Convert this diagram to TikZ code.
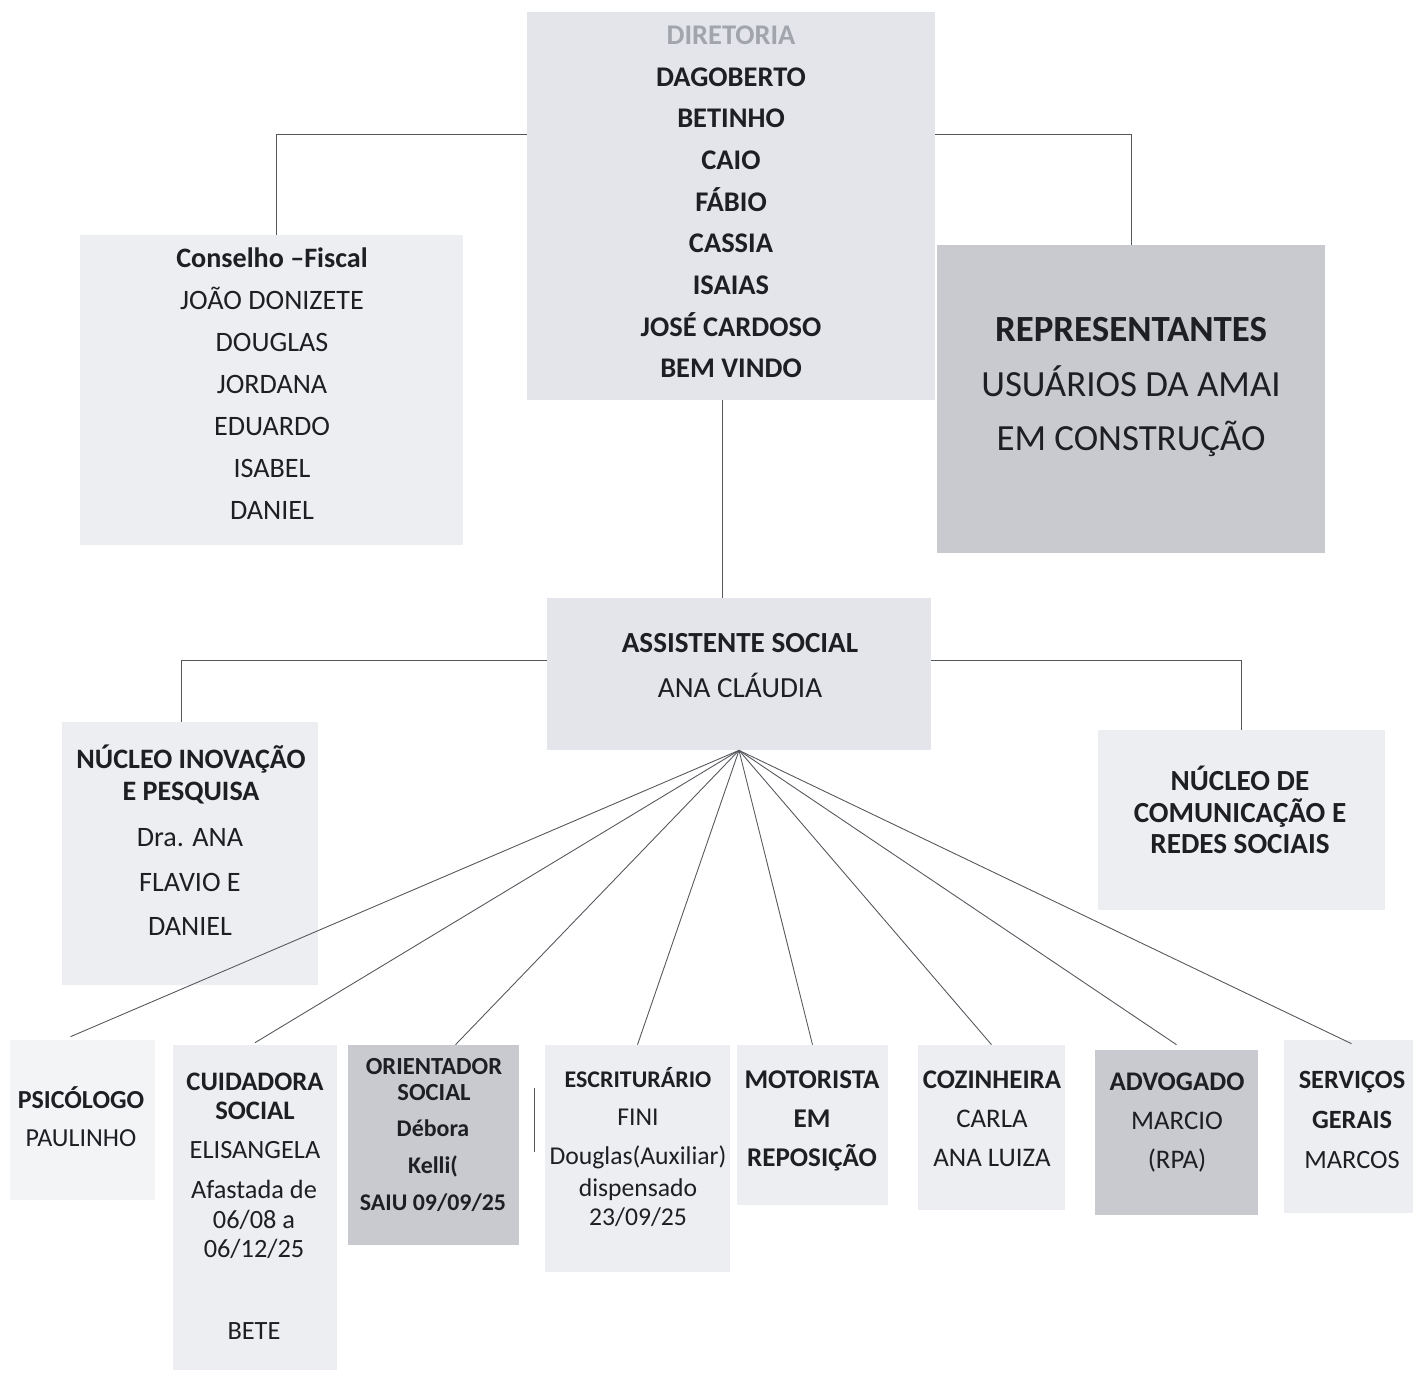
\documentclass[tikz,border=0pt]{standalone}
\usepackage{fontspec}
\setmainfont{Carlito}
\definecolor{ink}{HTML}{1E1F23}
\definecolor{dimink}{HTML}{A2A5AC}
\definecolor{boxmid}{HTML}{E3E5EA}
\definecolor{boxpale}{HTML}{EDEEF2}
\definecolor{boxfaint}{HTML}{F3F4F6}
\definecolor{boxdark}{HTML}{C8CACF}
\definecolor{wire}{HTML}{55575C}
\begin{document}
\begin{tikzpicture}[x=0.02cm,y=-0.02cm,
	box/.style={rectangle,inner sep=0pt,fill=boxpale},
	txt/.style={align=center,text=ink,inner sep=0pt},
	wirel/.style={draw=wire,line width=0.5pt}]
	\useasboundingbox[fill=white] (0,0) rectangle (1413,1374);
	% boxes
	\node[box,fill=boxmid,minimum width=8.16cm,minimum height=7.76cm] (dir) at (731,206) {};
	\node[box,minimum width=7.66cm,minimum height=6.2cm] (cons) at (271.5,390) {};
	\node[box,fill=boxdark,minimum width=7.76cm,minimum height=6.16cm] (repr) at (1131,399) {};
	\node[box,fill=boxmid,minimum width=7.68cm,minimum height=3.04cm] (assist) at (739,674) {};
	\node[box,minimum width=5.12cm,minimum height=5.26cm] (inov) at (190,853.5) {};
	\node[box,minimum width=5.74cm,minimum height=3.6cm] (comu) at (1241.5,820) {};
	\node[box,fill=boxfaint,minimum width=2.9cm,minimum height=3.2cm] (psic) at (82.5,1120) {};
	\node[box,minimum width=3.28cm,minimum height=6.5cm] (cuid) at (255,1207.5) {};
	\node[box,fill=boxdark,minimum width=3.42cm,minimum height=4.0cm] (orie) at (433.5,1145) {};
	\node[box,minimum width=3.7cm,minimum height=4.54cm] (escr) at (637.5,1158.5) {};
	\node[box,minimum width=3.02cm,minimum height=3.2cm] (moto) at (812.5,1125) {};
	\node[box,minimum width=2.94cm,minimum height=3.3cm] (cozi) at (991.5,1127.5) {};
	\node[box,fill=boxdark,minimum width=3.26cm,minimum height=3.3cm] (advo) at (1176.5,1132.5) {};
	\node[box,minimum width=2.58cm,minimum height=3.46cm] (serv) at (1348.5,1126.5) {};
	% texts
	\node[txt,font=\fontsize{16.2}{23.7}\selectfont\bfseries] (dirtxt) at (731,202)
		{\textcolor{dimink}{DIRETORIA}\\DAGOBERTO\\BETINHO\\CAIO\\FÁBIO\\CASSIA\\ISAIAS\\JOSÉ CARDOSO\\BEM VINDO};
	\node[txt,font=\fontsize{16}{23.9}\selectfont] (constxt) at (272,383.5)
		{\textbf{Conselho –Fiscal}\\JOÃO DONIZETE\\DOUGLAS\\JORDANA\\EDUARDO\\ISABEL\\DANIEL};
	\node[txt,font=\fontsize{21}{31.2}\selectfont] (reprtxt) at (1131,387)
		{\textbf{REPRESENTANTES}\\USUÁRIOS DA AMAI\\EM CONSTRUÇÃO};
	\node[txt,font=\fontsize{16.6}{25.5}\selectfont] (assisttxt) at (740,665.5)
		{\textbf{ASSISTENTE SOCIAL}\\ANA CLÁUDIA};
	\node[txt,font=\fontsize{16}{18.7}\selectfont\bfseries] (inovhead) at (191,774.5)
		{NÚCLEO INOVAÇÃO\\E PESQUISA};
	\node[txt,font=\fontsize{16}{25.5}\selectfont] (inovnames) at (190,882)
		{Dra. ANA\\FLAVIO E\\DANIEL};
	\node[txt,font=\fontsize{16.6}{18.1}\selectfont\bfseries] (comutxt) at (1240,810)
		{NÚCLEO DE\\COMUNICAÇÃO E\\REDES SOCIAIS};
	\node[txt,font=\fontsize{14.8}{21.5}\selectfont] (psictxt) at (81,1117)
		{\textbf{PSICÓLOGO}\\PAULINHO};
	\node[txt,font=\fontsize{15.2}{16.4}\selectfont\bfseries] (cuidhead) at (255,1096.5)
		{CUIDADORA\\SOCIAL};
	\node[txt,font=\fontsize{15}{16.7}\selectfont] (cuidname) at (255,1150) {ELISANGELA};
	\node[txt,font=\fontsize{15}{16.7}\selectfont] (cuiddates) at (254,1219.5)
		{Afastada de\\06/08 a\\06/12/25};
	\node[txt,font=\fontsize{15}{16.7}\selectfont] (cuidbete) at (254,1331) {BETE};
	\node[txt,font=\fontsize{14}{15.3}\selectfont\bfseries] (oriehead) at (434,1079.5)
		{ORIENTADOR\\SOCIAL};
	\node[txt,font=\fontsize{13.6}{21}\selectfont\bfseries] (orienames) at (433,1166)
		{Débora\\Kelli(\\SAIU 09/09/25};
	\node[txt,font=\fontsize{14.6}{22.1}\selectfont] (escrtop) at (638,1118)
		{\textbf{\fontsize{13.6}{22.1}\selectfont ESCRITURÁRIO}\\FINI\\Douglas(Auxiliar)};
	\node[txt,font=\fontsize{14.6}{16.4}\selectfont] (escrbot) at (638,1202.5)
		{dispensado\\23/09/25};
	\node[txt,font=\fontsize{15.4}{22.1}\selectfont\bfseries] (mototxt) at (812,1121)
		{MOTORISTA\\EM\\REPOSIÇÃO};
	\node[txt,font=\fontsize{15.3}{22.1}\selectfont] (cozitxt) at (992,1119)
		{\textbf{COZINHEIRA}\\CARLA\\ANA LUIZA};
	\node[txt,font=\fontsize{15.3}{22.4}\selectfont] (advotxt) at (1177,1122.5)
		{\textbf{ADVOGADO}\\MARCIO\\(RPA)};
	\node[txt,font=\fontsize{15}{22.7}\selectfont] (servtxt) at (1352,1120)
		{\textbf{SERVIÇOS}\\\textbf{GERAIS}\\MARCOS};
	% connectors
	\draw[wirel] ([yshift=1.44cm]dir.west) -| ([xshift=0.1cm]cons.north);
	\draw[wirel] ([yshift=1.44cm]dir.east) -| (repr.north);
	\draw[wirel] ([xshift=-0.18cm]dir.south) -- ([xshift=-0.18cm]dir.south |- assist.north);
	\draw[wirel] ([yshift=0.28cm]assist.west) -| ([xshift=-0.18cm]inov.north);
	\draw[wirel] ([yshift=0.28cm]assist.east) -| (comu.north);
	\draw[wirel] (assist.south) -- ([xshift=-0.24cm,yshift=0.06cm]psic.north);
	\draw[wirel] (assist.south) -- ([yshift=0.04cm]cuid.north);
	\draw[wirel] (assist.south) -- ([xshift=0.44cm]orie.north);
	\draw[wirel] (assist.south) -- (escr.north);
	\draw[wirel] (assist.south) -- (moto.north);
	\draw[wirel] (assist.south) -- (cozi.north);
	\draw[wirel] (assist.south) -- ([yshift=0.1cm]advo.north);
	\draw[wirel] (assist.south) -- ([xshift=0.06cm,yshift=-0.08cm]serv.north);
	\draw[wirel] (534,1088) -- (534,1152);
\end{tikzpicture}
\end{document}
